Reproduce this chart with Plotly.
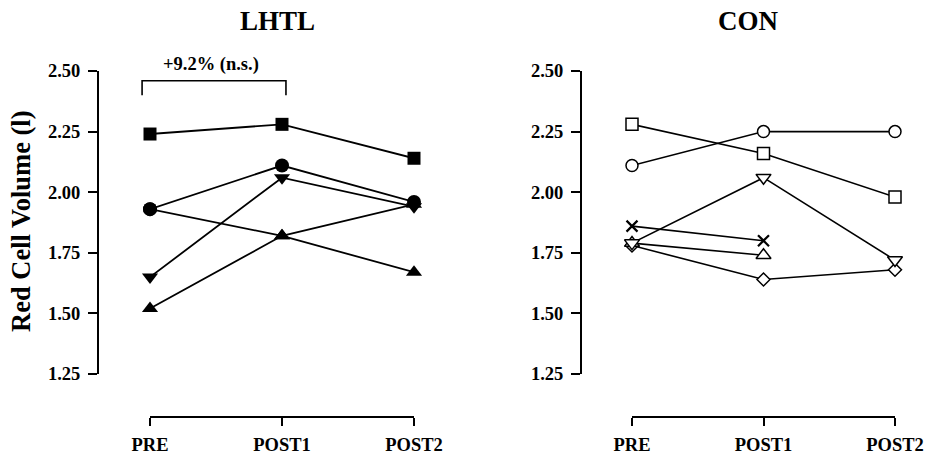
import plotly.graph_objects as go

# ---- data ----
timepoints = ["PRE", "POST1", "POST2"]
x_idx = [0, 1, 2]

# LHTL group (filled markers), red cell volume in litres
lhtl_square = [2.24, 2.28, 2.14]
lhtl_circle = [1.93, 2.11, 1.96]
lhtl_tri_down = [1.65, 2.06, 1.94]
lhtl_tri_up_a = [1.52, 1.82, 1.95]
lhtl_tri_up_b = [1.93, 1.82, 1.67]

# CON group (open markers)
con_square = [2.28, 2.16, 1.98]
con_circle = [2.11, 2.25, 2.25]
con_tri_down = [1.79, 2.06, 1.72]
con_x = [1.86, 1.80, None]
con_tri_up = [1.79, 1.74, None]
con_diamond = [1.78, 1.64, 1.68]

y_ticks = [1.25, 1.50, 1.75, 2.00, 2.25, 2.50]
y_range = [1.25, 2.50]
annotation_text = "+9.2% (n.s.)"
bracket_level = 2.46
bracket_leg = 2.40

# ---- figure ----
W, H = 942, 455
FONT = "Liberation Serif"
fig = go.Figure()

lhtl = [
    (lhtl_tri_up_b, ["circle", "triangle-up", "triangle-up"], 14),
    (lhtl_tri_up_a, "triangle-up", 14),
    (lhtl_tri_down, "triangle-down", 14),
    (lhtl_circle, "circle", 14),
    (lhtl_square, "square", 13),
]
con = [
    (con_diamond, "diamond", 10, 1.5),
    (con_tri_up, "triangle-up", 13, 1.5),
    (con_x, "x-thin", 11, 2.2),
    (con_tri_down, "triangle-down", 13, 1.5),
    (con_circle, "circle", 12, 1.5),
    (con_square, "square", 12, 1.5),
]

# lines first
for vals, _, _ in lhtl:
    fig.add_trace(go.Scatter(x=x_idx, y=vals, mode="lines", xaxis="x", yaxis="y",
                             line=dict(color="black", width=1.8), showlegend=False,
                             cliponaxis=False))
for vals, _, _, _ in con:
    fig.add_trace(go.Scatter(x=x_idx, y=vals, mode="lines", xaxis="x2", yaxis="y2",
                             line=dict(color="black", width=1.6), showlegend=False,
                             cliponaxis=False))
# markers on top
for vals, sym, sz in lhtl:
    fig.add_trace(go.Scatter(x=x_idx, y=vals, mode="markers", xaxis="x", yaxis="y",
                             marker=dict(symbol=sym, size=sz, color="black",
                                         line=dict(width=0)),
                             showlegend=False, cliponaxis=False))
for vals, sym, sz, lw in con:
    fig.add_trace(go.Scatter(x=x_idx, y=vals, mode="markers", xaxis="x2", yaxis="y2",
                             marker=dict(symbol=sym, size=sz, color="white",
                                         line=dict(width=lw, color="black")),
                             showlegend=False, cliponaxis=False))

ydom = [1 - 374 / H, 1 - 71 / H]
xpos = 1 - 417 / H
tickfont = dict(family=FONT, size=18.5, color="black", weight="bold")

def yax(pos):
    return dict(domain=ydom, range=y_range, tickvals=y_ticks, tickformat=".2f",
                anchor="free", position=pos, showline=True, linewidth=2,
                linecolor="black", ticks="outside", ticklen=9, tickwidth=1.6,
                tickcolor="black", showgrid=False, zeroline=False, automargin=False,
                tickfont=tickfont, ticklabelstandoff=4)

def xax(dom):
    return dict(domain=dom, range=[0, 2], tickvals=x_idx, ticktext=timepoints,
                anchor="free", position=xpos, showline=True, linewidth=2,
                linecolor="black", ticks="outside", ticklen=8, tickwidth=1.6,
                tickcolor="black", showgrid=False, zeroline=False, automargin=False,
                tickfont=tickfont, ticklabelstandoff=3)

fig.update_layout(
    width=W, height=H,
    margin=dict(l=0, r=0, t=0, b=0, pad=0),
    paper_bgcolor="white", plot_bgcolor="white",
    font=dict(family=FONT, color="black", weight="bold"),
    xaxis=xax([150 / W, 414 / W]),
    yaxis=yax(98 / W),
    xaxis2=xax([632 / W, 895 / W]),
    yaxis2=yax(581 / W),
)

def ydomain_frac(v):
    return (v - y_range[0]) / (y_range[1] - y_range[0])

# bracket
bl = ydomain_frac(bracket_level)
bg = ydomain_frac(bracket_leg)
fig.add_shape(type="path", xref="x domain", yref="y domain",
              path=f"M -0.03,{bg} L -0.03,{bl} L 0.515,{bl} L 0.515,{bg}",
              line=dict(color="black", width=1.6))

anns = [
    dict(text="LHTL", x=277 / W, y=1 - 21 / H, size=27),
    dict(text="CON", x=748 / W, y=1 - 21 / H, size=27),
    dict(text=annotation_text, x=211 / W, y=1 - 65 / H, size=18.5),
]
for a in anns:
    fig.add_annotation(text=a["text"], x=a["x"], y=a["y"], xref="paper", yref="paper",
                       showarrow=False, xanchor="center", yanchor="middle",
                       font=dict(family=FONT, size=a["size"], color="black", weight="bold"))
fig.add_annotation(text="Red Cell Volume (l)", x=21 / W, y=1 - 221 / H,
                   xref="paper", yref="paper", showarrow=False, textangle=-90,
                   xanchor="center", yanchor="middle",
                   font=dict(family=FONT, size=26.5, color="black", weight="bold"))

fig.write_html("out.html")
